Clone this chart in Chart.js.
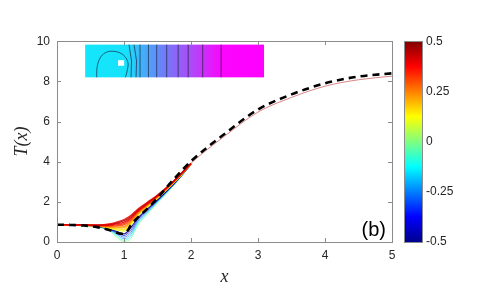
<!DOCTYPE html>
<html>
<head>
<meta charset="utf-8">
<script src="https://cdn.jsdelivr.net/npm/chart.js@4.4.1/dist/chart.umd.min.js"></script>
<style>
  html, body { margin: 0; padding: 0; background: #fff; }
  #wrap { width: 480px; height: 288px; }
</style>
</head>
<body>
<div id="wrap"><canvas id="chart" width="480" height="288"></canvas></div>
<script>
const xHead = [0, 0.3, 0.6, 0.8, 0.9, 1.0, 1.1, 1.2, 1.35, 1.5, 1.75, 2];
const xTail = [2.5, 3, 3.5, 4, 4.5, 5];
// beyond x = 2 the coloured curves lie on top of each other
const tailT = [5.27, 6.47, 7.2, 7.76, 8.08, 8.26];

// colour parameter of each curve (top of the dip first)
const params = [0.5, 0.45, 0.4, 0.35, 0.3, 0.25, 0.2, 0.15, 0.1, -0.5, -0.4, -0.3, -0.2, -0.1, 0];
const heads = [
    [0.87, 0.85, 0.85, 0.91, 1.00, 1.12, 1.32, 1.62, 1.98, 2.34, 3.07, 3.92],
    [0.87, 0.85, 0.84, 0.88, 0.96, 1.06, 1.26, 1.57, 1.95, 2.32, 3.06, 3.91],
    [0.87, 0.85, 0.83, 0.85, 0.91, 0.99, 1.20, 1.53, 1.92, 2.30, 3.05, 3.91],
    [0.87, 0.85, 0.82, 0.82, 0.86, 0.92, 1.14, 1.49, 1.89, 2.28, 3.03, 3.90],
    [0.87, 0.85, 0.82, 0.79, 0.81, 0.85, 1.08, 1.45, 1.86, 2.26, 3.02, 3.90],
    [0.86, 0.85, 0.81, 0.76, 0.75, 0.77, 1.02, 1.41, 1.83, 2.24, 3.01, 3.89],
    [0.86, 0.85, 0.81, 0.73, 0.70, 0.70, 0.97, 1.37, 1.80, 2.22, 2.99, 3.89],
    [0.86, 0.84, 0.80, 0.70, 0.65, 0.62, 0.91, 1.33, 1.77, 2.20, 2.98, 3.88],
    [0.86, 0.84, 0.79, 0.67, 0.59, 0.54, 0.86, 1.29, 1.74, 2.18, 2.97, 3.88],
    [0.86, 0.84, 0.78, 0.63, 0.52, 0.40, 0.70, 1.16, 1.64, 2.10, 2.92, 3.87],
    [0.86, 0.84, 0.78, 0.61, 0.47, 0.32, 0.58, 1.09, 1.59, 2.07, 2.91, 3.87],
    [0.86, 0.84, 0.78, 0.59, 0.42, 0.24, 0.47, 1.02, 1.54, 2.04, 2.89, 3.86],
    [0.85, 0.83, 0.77, 0.57, 0.36, 0.16, 0.36, 0.95, 1.49, 2.01, 2.87, 3.86],
    [0.85, 0.83, 0.77, 0.55, 0.28, 0.09, 0.26, 0.87, 1.44, 1.98, 2.86, 3.85],
    [0.85, 0.83, 0.76, 0.52, 0.20, 0.03, 0.16, 0.80, 1.39, 1.94, 2.85, 3.85]
];

// black dashed reference curve (on its own x positions)
const xDashed = [0, 0.2, 0.4, 0.6, 0.75, 0.85, 0.95, 1.0, 1.05, 1.1, 1.2, 1.35, 1.5, 1.75, 2,
                 2.5, 3, 3.5, 4, 4.5, 5];
const dashedT = [0.86, 0.85, 0.82, 0.74, 0.62, 0.52, 0.41, 0.42, 0.55, 0.82, 1.20, 1.66, 2.20, 3.15, 4.02,
                 5.38, 6.60, 7.35, 7.90, 8.24, 8.40];

const xTicks = [0, 1, 2, 3, 4, 5];
const yTicks = [0, 2, 4, 6, 8, 10];
const cbTicks = [-0.5, -0.25, 0, 0.25, 0.5];

// inset field picture extent in data units
const insetX = [0.42, 3.09];
const insetY = [8.2, 9.83];
const contourX = [0.251, 0.279, 0.307, 0.354, 0.40, 0.456, 0.52, 0.576, 0.657, 0.76];

const jetStops = [
    [0, '#00008f'], [0.125, '#0000ff'], [0.375, '#00ffff'],
    [0.625, '#ffff00'], [0.875, '#ff0000'], [1, '#800000']
];

function hexToRgb(h) {
    return [parseInt(h.slice(1, 3), 16), parseInt(h.slice(3, 5), 16), parseInt(h.slice(5, 7), 16)];
}

function jet(p, alpha) {
    const t = Math.min(1, Math.max(0, p + 0.5));
    for (let i = 1; i < jetStops.length; i++) {
        if (t <= jetStops[i][0]) {
            const a = jetStops[i - 1], b = jetStops[i];
            const f = (t - a[0]) / (b[0] - a[0]);
            const ca = hexToRgb(a[1]), cb = hexToRgb(b[1]);
            const c = ca.map((v, k) => Math.round(v + (cb[k] - v) * f));
            return 'rgba(' + c.join(',') + ',' + alpha + ')';
        }
    }
    return jetStops[jetStops.length - 1][1];
}

function toPoints(xsArr, ysArr) {
    return xsArr.map((x, i) => ({ x: x, y: ysArr[i] }));
}

const datasets = [{
    data: toPoints(xDashed, dashedT),
    borderColor: '#000',
    borderWidth: 2.6,
    borderDash: [7, 5],
    pointRadius: 0,
    cubicInterpolationMode: 'monotone'
}];
params.forEach((p, i) => {
    // only the top curve is carried on along the shared tail
    const xs = i === 0 ? xHead.concat(xTail) : xHead;
    const ys = i === 0 ? heads[i].concat(tailT) : heads[i];
    const lower = p <= 0 && p > -0.45;
    datasets.push({
        data: toPoints(xs, ys),
        borderColor: jet(i === 0 ? 0.4 : p, lower ? 0.7 : 0.85),
        borderWidth: lower ? 0.9 : 1.3,
        pointRadius: 0,
        cubicInterpolationMode: 'monotone',
        segment: i === 0 ? {
            borderColor: c => c.p0.parsed.x >= 2 ? 'rgba(205,95,95,0.85)' : undefined,
            borderWidth: c => c.p0.parsed.x >= 2 ? 0.9 : undefined
        } : undefined
    });
});

function drawInset(chart) {
    const ctx = chart.ctx;
    const sx = chart.scales.x, sy = chart.scales.y;
    const l = sx.getPixelForValue(insetX[0]), r = sx.getPixelForValue(insetX[1]);
    const t = sy.getPixelForValue(insetY[1]), b = sy.getPixelForValue(insetY[0]);
    const w = r - l, h = b - t;
    ctx.save();
    const g = ctx.createLinearGradient(l, 0, r, 0);
    g.addColorStop(0, '#14e6fb');
    g.addColorStop(0.23, '#16e2fb');
    g.addColorStop(0.31, '#3cb4fa');
    g.addColorStop(0.45, '#7478f8');
    g.addColorStop(0.6, '#b048f8');
    g.addColorStop(0.76, '#fa06fd');
    g.addColorStop(1, '#ff00ff');
    ctx.fillStyle = g;
    ctx.fillRect(l, t, w, h);

    ctx.strokeStyle = 'rgba(25,35,60,0.75)';
    ctx.lineWidth = 0.9;
    contourX.forEach((f, i) => {
        const px = l + f * w;
        ctx.beginPath();
        if (i < 2) {
            ctx.moveTo(px - 1, t);
            ctx.quadraticCurveTo(px + 3, t + h * 0.5, px + 1, b);
        } else {
            ctx.moveTo(px, t);
            ctx.lineTo(px, b);
        }
        ctx.stroke();
    });
    // closed contour round the obstacle
    ctx.beginPath();
    ctx.moveTo(l + 0.065 * w, b);
    ctx.bezierCurveTo(l + 0.06 * w, t + 0.5 * h, l + 0.09 * w, t + 0.2 * h, l + 0.15 * w, t + 0.2 * h);
    ctx.bezierCurveTo(l + 0.22 * w, t + 0.2 * h, l + 0.245 * w, t + 0.5 * h, l + 0.24 * w, t + 0.65 * h);
    ctx.quadraticCurveTo(l + 0.235 * w, t + 0.85 * h, l + 0.225 * w, b);
    ctx.stroke();
    // obstacle
    ctx.fillStyle = '#fff';
    ctx.fillRect(l + 0.184 * w, t + 0.476 * h, 0.034 * w, 0.17 * h);
    ctx.restore();
}

function drawBox(chart) {
    const ctx = chart.ctx, a = chart.chartArea;
    const sx = chart.scales.x, sy = chart.scales.y;
    ctx.save();
    ctx.strokeStyle = '#8c8c8c';
    ctx.lineWidth = 1;
    ctx.strokeRect(Math.round(a.left) + 0.5, Math.round(a.top) + 0.5,
                   Math.round(a.right - a.left), Math.round(a.bottom - a.top));
    ctx.beginPath();
    xTicks.forEach(v => {
        const px = Math.round(sx.getPixelForValue(v)) + 0.5;
        ctx.moveTo(px, a.bottom); ctx.lineTo(px, a.bottom - 4);
        ctx.moveTo(px, a.top); ctx.lineTo(px, a.top + 4);
    });
    yTicks.forEach(v => {
        const py = Math.round(sy.getPixelForValue(v)) + 0.5;
        ctx.moveTo(a.left, py); ctx.lineTo(a.left + 4, py);
        ctx.moveTo(a.right, py); ctx.lineTo(a.right - 4, py);
    });
    ctx.stroke();
    ctx.fillStyle = '#000';
    ctx.font = '20px "Liberation Sans", Arial, sans-serif';
    ctx.textAlign = 'right';
    ctx.textBaseline = 'alphabetic';
    ctx.fillText('(b)', a.right - 6, a.bottom - 6);
    ctx.restore();
}

function drawColorbar(chart) {
    const ctx = chart.ctx, a = chart.chartArea;
    const cb = chart.scales.cb;
    const l = a.right + 12, r = a.right + 30;
    const t = cb.getPixelForValue(0.5), b = cb.getPixelForValue(-0.5);
    ctx.save();
    const g = ctx.createLinearGradient(0, b, 0, t);
    jetStops.forEach(s => g.addColorStop(s[0], s[1]));
    ctx.fillStyle = g;
    ctx.fillRect(l, t, r - l, b - t);
    ctx.strokeStyle = '#8c8c8c';
    ctx.lineWidth = 1;
    ctx.strokeRect(Math.round(l) + 0.5, Math.round(t) + 0.5, Math.round(r - l), Math.round(b - t));
    ctx.restore();
}

const decor = {
    id: 'decor',
    beforeDatasetsDraw(chart) { drawInset(chart); },
    afterDraw(chart) { drawBox(chart); drawColorbar(chart); }
};

const tickFont = { family: '"Liberation Sans", Arial, sans-serif', size: 12 };
const titleFont = { family: '"Liberation Serif", "Times New Roman", serif', size: 18, style: 'italic' };

new Chart(document.getElementById('chart').getContext('2d'), {
    type: 'line',
    data: { datasets: datasets },
    options: {
        responsive: false,
        animation: false,
        events: [],
        layout: { padding: { top: 22, right: 0, left: 0, bottom: 0 } },
        plugins: { legend: { display: false }, tooltip: { enabled: false } },
        scales: {
            x: {
                type: 'linear', min: 0, max: 5,
                afterBuildTicks: s => { s.ticks = xTicks.map(v => ({ value: v })); },
                afterFit: s => { s.height = 46; },
                grid: { display: false, drawTicks: false },
                border: { display: false },
                ticks: { color: '#262626', font: tickFont, padding: 6, maxRotation: 0 },
                title: { display: true, text: 'x', color: '#262626', font: titleFont, padding: { top: 0, bottom: 0 } }
            },
            y: {
                type: 'linear', min: 0, max: 10,
                afterBuildTicks: s => { s.ticks = yTicks.map(v => ({ value: v })); },
                afterFit: s => { s.width = 57; },
                grid: { display: false, drawTicks: false },
                border: { display: false },
                ticks: { color: '#262626', font: tickFont, padding: 7 },
                title: { display: true, text: 'T(x)', color: '#262626', font: titleFont, padding: { top: 11, bottom: 0 } }
            },
            cb: {
                type: 'linear', position: 'right', min: -0.5, max: 0.5,
                afterBuildTicks: s => { s.ticks = cbTicks.map(v => ({ value: v })); },
                afterFit: s => { s.width = 88; },
                grid: { display: false, drawTicks: false },
                border: { display: false },
                ticks: { color: '#262626', font: tickFont, padding: 34, callback: v => String(v) }
            }
        }
    },
    plugins: [decor]
});
</script>
</body>
</html>
